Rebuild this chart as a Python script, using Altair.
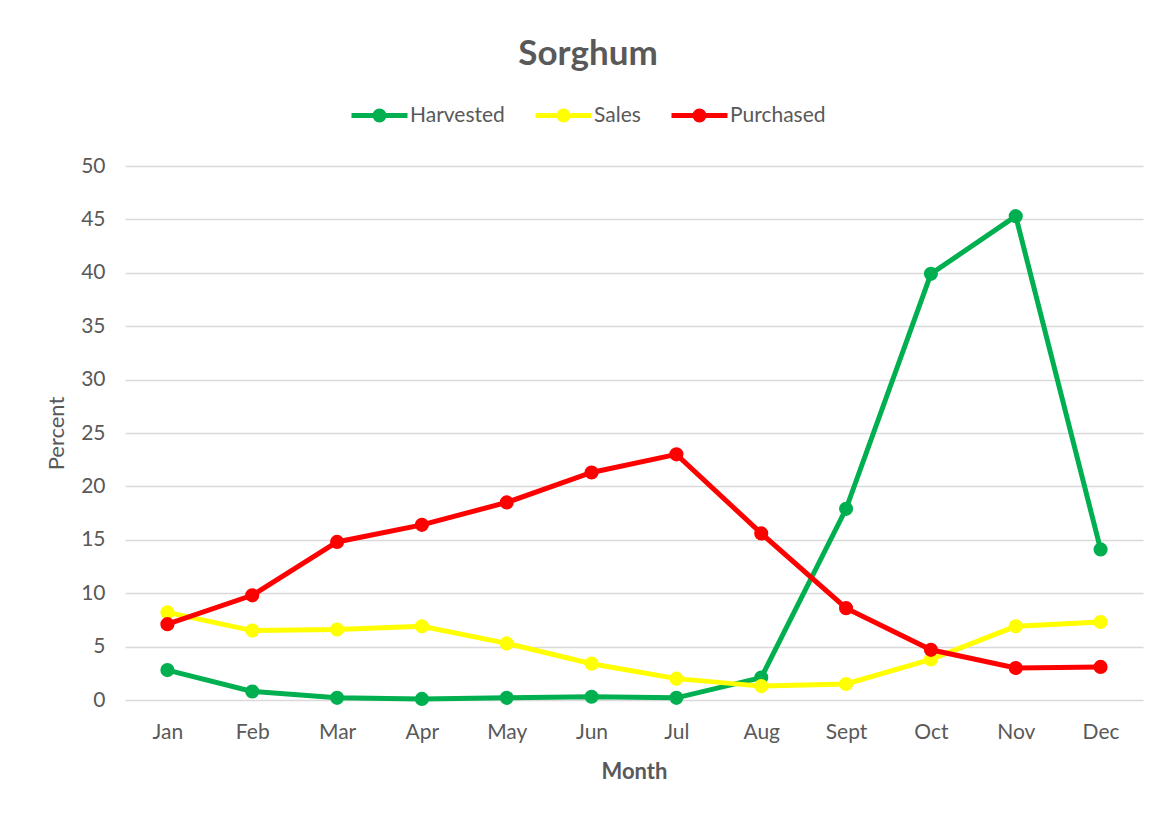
import altair as alt
import pandas as pd

months = ["Jan", "Feb", "Mar", "Apr", "May", "Jun", "Jul", "Aug", "Sept", "Oct", "Nov", "Dec"]
harvested = [2.8, 0.8, 0.2, 0.1, 0.2, 0.3, 0.2, 2.1, 17.9, 39.9, 45.3, 14.1]
sales = [8.2, 6.5, 6.6, 6.9, 5.3, 3.4, 2.0, 1.3, 1.5, 3.8, 6.9, 7.3]
purchased = [7.1, 9.8, 14.8, 16.4, 18.5, 21.3, 23.0, 15.6, 8.6, 4.7, 3.0, 3.1]

series_names = ["Harvested", "Sales", "Purchased"]
series_colors = ["#00B050", "#FFFF00", "#FF0000"]
y_ticks = [0, 5, 10, 15, 20, 25, 30, 35, 40, 45, 50]

rows = []
for name, vals in zip(series_names, [harvested, sales, purchased]):
    for m, v in zip(months, vals):
        rows.append({"Month": m, "Percent": v, "Series": name})
df = pd.DataFrame(rows)

FONT = "Lato"
TXT = "#595959"

# line + filled dot drawn as strokes (two concentric circles fill the dot)
legend_symbol = ("M-1,0H1 "
                 "M0.16,0A0.16,0.16 0 1,1 -0.16,0A0.16,0.16 0 1,1 0.16,0Z "
                 "M0.07,0A0.07,0.07 0 1,1 -0.07,0A0.07,0.07 0 1,1 0.07,0Z")

chart = alt.Chart(df).mark_line(
    strokeWidth=5,
    point=alt.OverlayMarkDef(filled=True, size=200, opacity=1),
).encode(
    x=alt.X("Month:N", sort=months, title="Month",
            scale=alt.Scale(paddingInner=0, paddingOuter=0),
            axis=alt.Axis(labelAngle=0, ticks=False, domain=False, grid=False,
                          labelPadding=21, titlePadding=19,
                          labelFontSize=21, titleFontSize=22, titleFontWeight="bold")),
    y=alt.Y("Percent:Q", title="Percent",
            scale=alt.Scale(domain=[0, 50], nice=False),
            axis=alt.Axis(values=y_ticks, ticks=False, domain=False,
                          labelPadding=20, titlePadding=12,
                          labelFontSize=21, titleFontSize=22, titleFontWeight="normal",
                          gridColor="#D9D9D9", gridWidth=1.3)),
    color=alt.Color("Series:N", sort=series_names,
                    scale=alt.Scale(domain=series_names, range=series_colors),
                    legend=alt.Legend(title=None, orient="none", direction="horizontal",
                                      legendX=224, legendY=-81,
                                      symbolType=legend_symbol, symbolSize=3136,
                                      symbolStrokeWidth=5, symbolOpacity=1,
                                      labelOffset=0,
                                      columnPadding=20, labelFontSize=21)),
).properties(
    width=1018, height=534,
    title=alt.TitleParams("Sorghum", fontSize=35, fontWeight="bold", color=TXT,
                          font=FONT, anchor="middle", dx=-46, offset=13),
    padding={"left": 117, "top": 158, "right": 17, "bottom": 109},
    autosize=alt.AutoSizeParams(type="none"),
).configure_view(stroke=None).configure_axis(
    labelFont=FONT, titleFont=FONT, labelColor=TXT, titleColor=TXT,
).configure_legend(labelFont=FONT, labelColor=TXT)

chart.save("out.html", embed_options={"renderer": "svg", "actions": False})
